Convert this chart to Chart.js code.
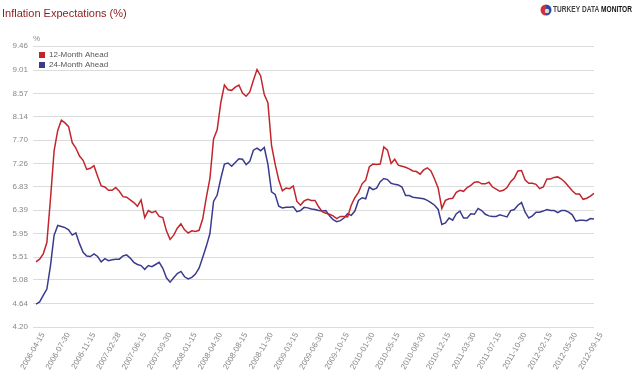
<!DOCTYPE html>
<html>
<head>
<meta charset="utf-8">
<script src="https://cdn.jsdelivr.net/npm/chart.js@4.4.0/dist/chart.umd.min.js"></script>
<style>
html,body{margin:0;padding:0;background:#fff;}
#wrap{width:637px;height:374px;position:relative;}
</style>
</head>
<body>
<div id="wrap"><canvas id="c" width="637" height="374"></canvas></div>
<script>
// ---- data ----
const titleText = "Inflation Expectations (%)";
const seriesNames = ["12-Month Ahead", "24-Month Ahead"];
const xTickLabels = ["2006-04-15","2006-07-30","2006-11-15","2007-02-28","2007-06-15","2007-09-30","2008-01-15","2008-04-30","2008-08-15","2008-11-30","2009-03-15","2009-06-30","2009-10-15","2010-01-30","2010-05-15","2010-08-30","2010-12-15","2011-03-30","2011-07-15","2011-10-30","2012-02-15","2012-05-30","2012-09-15"];
const yTickLabels = ["4.20","4.64","5.08","5.51","5.95","6.39","6.83","7.26","7.70","8.14","8.57","9.01","9.46"];

const ahead12 = [
5.42,5.47,5.57,5.78,6.60,7.50,7.88,8.07,8.02,7.95,
7.65,7.55,7.40,7.32,7.15,7.17,7.22,7.02,6.84,6.82,
6.76,6.76,6.81,6.74,6.64,6.63,6.58,6.53,6.46,6.58,
6.25,6.38,6.34,6.37,6.27,6.25,6.00,5.84,5.92,6.05,
6.13,6.02,5.96,6.00,5.99,6.01,6.22,6.62,6.98,7.72,
7.89,8.40,8.73,8.64,8.63,8.69,8.73,8.58,8.52,8.60,
8.82,9.02,8.90,8.55,8.40,7.60,7.25,6.95,6.75,6.80,
6.79,6.84,6.55,6.48,6.56,6.59,6.57,6.57,6.45,6.36,
6.33,6.31,6.28,6.23,6.27,6.27,6.26,6.48,6.62,6.72,
6.88,6.95,7.20,7.25,7.24,7.25,7.57,7.51,7.26,7.34,
7.23,7.21,7.19,7.16,7.12,7.11,7.06,7.14,7.18,7.12,
6.97,6.80,6.42,6.57,6.60,6.61,6.72,6.76,6.74,6.81,
6.85,6.91,6.92,6.88,6.88,6.91,6.82,6.78,6.74,6.76,
6.81,6.92,6.99,7.12,7.13,6.95,6.89,6.89,6.87,6.79,
6.82,6.97,6.97,7.00,7.01,6.97,6.91,6.83,6.75,6.69,
6.69,6.59,6.61,6.65,6.70];

const ahead24 = [
4.63,4.67,4.79,4.91,5.35,5.92,6.10,6.08,6.06,6.02,
5.92,5.96,5.76,5.60,5.53,5.52,5.57,5.52,5.42,5.48,
5.44,5.46,5.47,5.47,5.53,5.55,5.49,5.41,5.37,5.35,
5.28,5.35,5.33,5.37,5.41,5.30,5.12,5.04,5.12,5.20,
5.24,5.14,5.10,5.13,5.19,5.30,5.50,5.71,5.95,6.55,
6.67,6.98,7.25,7.27,7.21,7.28,7.35,7.34,7.24,7.30,
7.51,7.55,7.50,7.56,7.25,6.73,6.68,6.46,6.43,6.44,
6.44,6.45,6.36,6.38,6.44,6.43,6.41,6.40,6.38,6.37,
6.38,6.28,6.21,6.17,6.19,6.24,6.32,6.29,6.37,6.57,
6.62,6.60,6.82,6.77,6.80,6.92,6.98,6.96,6.89,6.87,
6.86,6.82,6.66,6.66,6.63,6.62,6.61,6.60,6.57,6.53,
6.48,6.40,6.12,6.15,6.24,6.20,6.32,6.37,6.24,6.24,
6.32,6.31,6.42,6.38,6.31,6.28,6.27,6.27,6.30,6.28,
6.26,6.38,6.40,6.48,6.53,6.35,6.24,6.28,6.35,6.35,
6.37,6.40,6.38,6.38,6.34,6.38,6.38,6.35,6.30,6.18,
6.20,6.20,6.19,6.23,6.22];

// categories: semi-monthly survey dates (15th and month end) 2006-04-15 .. 2012-09-15
const categories = [];
for (let y = 2006, m = 4; categories.length < ahead12.length; ) {
  const mm = String(m).padStart(2, "0");
  categories.push(y + "-" + mm + "-15");
  if (categories.length >= ahead12.length) break;
  categories.push(y + "-" + mm + "-" + (m === 2 ? "28" : "30"));
  m++; if (m > 12) { m = 1; y++; }
}

const RED = "#c0262c";
const BLUE = "#3b3b8e";
const FONT = "'Liberation Sans', Arial, sans-serif";

const decor = {
  id: "decor",
  afterDraw(chart) {
    const ctx = chart.ctx;
    ctx.save();
    // title
    ctx.fillStyle = "#8a1c1c";
    ctx.font = "11px " + FONT;
    ctx.textBaseline = "alphabetic";
    ctx.textAlign = "left";
    ctx.fillText(titleText, 2, 17);
    // % unit
    ctx.fillStyle = "#888";
    ctx.font = "8px " + FONT;
    ctx.fillText("%", 33, 41);
    // legend
    const cols = [RED, BLUE];
    seriesNames.forEach((n, i) => {
      const yy = 52 + i * 10;
      ctx.fillStyle = cols[i];
      ctx.fillRect(39, yy, 6, 6);
      ctx.fillStyle = "#555";
      ctx.font = "8px " + FONT;
      ctx.textBaseline = "middle";
      ctx.fillText(n, 49, yy + 3);
    });
    // logo
    const cx = 546, cy = 10, r = 5.5;
    ctx.beginPath(); ctx.moveTo(cx, cy); ctx.arc(cx, cy, r, Math.PI * 0.5, Math.PI * 1.5); ctx.closePath();
    ctx.fillStyle = "#d0303a"; ctx.fill();
    ctx.beginPath(); ctx.moveTo(cx, cy); ctx.arc(cx, cy, r, -Math.PI * 0.5, Math.PI * 0.5); ctx.closePath();
    ctx.fillStyle = "#2f4a9c"; ctx.fill();
    ctx.beginPath(); ctx.arc(cx + 1, cy + 1, 2.2, 0, Math.PI * 2); ctx.fillStyle = "#ddd"; ctx.fill();
    ctx.textBaseline = "middle";
    ctx.font = "bold 8px " + FONT;
    const t1 = "TURKEY DATA ", t2 = "MONITOR";
    const w1 = ctx.measureText(t1).width, w2 = ctx.measureText(t2).width;
    const sx = 79 / (w1 + w2);
    ctx.translate(553, cy);
    ctx.scale(sx, 1.05);
    ctx.fillStyle = "#444";
    ctx.fillText(t1, 0, 0);
    ctx.fillStyle = "#111";
    ctx.fillText(t2, w1, 0);
    ctx.restore();
  }
};

new Chart(document.getElementById("c"), {
  type: "line",
  data: {
    labels: categories,
    datasets: [
      { label: seriesNames[0], data: ahead12, borderColor: RED, borderWidth: 1.5, pointRadius: 0, tension: 0, fill: false },
      { label: seriesNames[1], data: ahead24, borderColor: BLUE, borderWidth: 1.5, pointRadius: 0, tension: 0, fill: false }
    ]
  },
  options: {
    responsive: false,
    animation: false,
    layout: { padding: { top: 46, right: 43, left: 0, bottom: 0 } },
    plugins: { legend: { display: false }, tooltip: { enabled: false }, title: { display: false } },
    scales: {
      x: {
        type: "category",
        grid: { display: false },
        border: { display: false },
        afterFit(s) { s.height = 47; },
        ticks: {
          autoSkip: false, maxRotation: 60, minRotation: 60, padding: -4, labelOffset: 7,
          color: "#888", font: { size: 8, family: FONT },
          callback(val, idx) { return idx % 7 === 0 ? xTickLabels[idx / 7] : null; }
        }
      },
      y: {
        min: 4.20, max: 9.46,
        afterFit(s) { s.width = 36; },
        afterBuildTicks(s) { s.ticks = yTickLabels.map(v => ({ value: parseFloat(v) })); },
        grid: { color: "#dcdcdc", lineWidth: 1, drawTicks: true, tickLength: 3 },
        border: { display: false },
        ticks: {
          padding: 5, color: "#888", font: { size: 8, family: FONT },
          callback(v, i) { return yTickLabels[i]; }
        }
      }
    }
  },
  plugins: [decor]
});
</script>
</body>
</html>
